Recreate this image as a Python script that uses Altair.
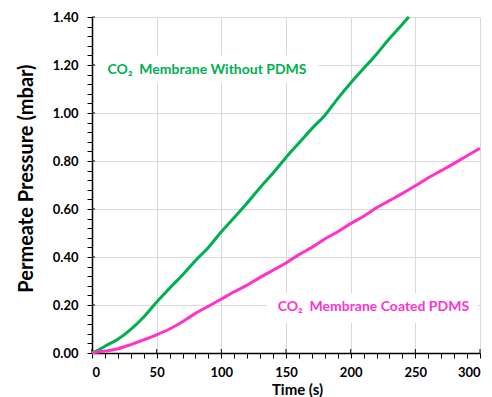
import altair as alt
import pandas as pd

# Data
t_green = [0, 5, 10, 20, 30, 40, 50, 60, 70, 80, 90, 100, 110, 120, 130, 140, 150,
           160, 170, 180, 190, 200, 210, 220, 230, 240, 245]
p_green = [0.0, 0.012, 0.028, 0.057, 0.098, 0.150, 0.212, 0.270, 0.325, 0.385, 0.440,
           0.505, 0.565, 0.625, 0.690, 0.750, 0.815, 0.875, 0.935, 0.990, 1.060, 1.125,
           1.185, 1.245, 1.310, 1.370, 1.400]

t_pink = [0, 10, 20, 30, 40, 50, 60, 70, 80, 90, 100, 110, 120, 130, 140, 150, 160,
          170, 180, 190, 200, 210, 220, 230, 240, 250, 260, 270, 280, 290, 300]
p_pink = [0.0, 0.008, 0.018, 0.035, 0.055, 0.076, 0.100, 0.130, 0.165, 0.195, 0.225,
          0.255, 0.283, 0.315, 0.345, 0.375, 0.410, 0.440, 0.475, 0.505, 0.539, 0.570,
          0.605, 0.635, 0.665, 0.697, 0.730, 0.760, 0.790, 0.822, 0.853]

series_names = ["Membrane Without PDMS", "Membrane Coated PDMS"]
series_colors = ["#00B050", "#FF33CC"]

x_major = [0, 50, 100, 150, 200, 250, 300]
x_ticks = list(range(0, 301, 10))
y_major = [0.0, 0.2, 0.4, 0.6, 0.8, 1.0, 1.2, 1.4]
y_ticks = [round(i * 0.04, 2) for i in range(0, 36)]

label_texts = ["CO₂\u00a0\u00a0Membrane Without PDMS", "CO₂\u00a0\u00a0Membrane Coated PDMS"]
label_t = [12, 143.6]
label_p = [1.18, 0.19]
box_t = [3, 135]
box_t2 = [175, 298]
box_p = [1.125, 0.125]
box_p2 = [1.24, 0.25]

FONT = "Lato"
W, H = 388, 336

df = pd.concat([
    pd.DataFrame({"t": t_green, "p": p_green, "s": series_names[0]}),
    pd.DataFrame({"t": t_pink, "p": p_pink, "s": series_names[1]}),
])
labels = pd.DataFrame({"text": label_texts, "t": label_t, "p": label_p, "s": series_names})
boxes = pd.DataFrame({"t": box_t, "t2": box_t2, "p": box_p, "p2": box_p2})

xscale = alt.Scale(domain=[0, 300], nice=False, zero=False)
yscale = alt.Scale(domain=[0, 1.4], nice=False, zero=False)
color = alt.Color("s:N", scale=alt.Scale(domain=series_names, range=series_colors), legend=None)

x_is_major = "datum.value % 50 === 0"
y_is_major = "abs(datum.value * 5 - round(datum.value * 5)) < 0.001"

x_axis = alt.Axis(values=x_ticks, tickCount=len(x_ticks) + 5, orient="bottom",
                  title="Time (s)", grid=True, gridColor="#d9d9d9", gridWidth=1,
                  gridOpacity=alt.condition(x_is_major, alt.value(1), alt.value(0)),
                  labelExpr=f"{x_is_major} ? datum.label : ''",
                  tickSize=5, tickColor="black",
                  domainColor="black", domainWidth=1.5, labelFont=FONT,
                  labelFontWeight="bold", labelFontSize=13, labelColor="black",
                  labelPadding=8, labelOverlap=False, titleFont=FONT,
                  titleFontWeight="bold", titleFontSize=15, titleColor="black",
                  titlePadding=3, titleX=205)
y_axis = alt.Axis(values=y_ticks, tickCount=len(y_ticks) + 5, orient="left", format=".2f",
                  title="Permeate Pressure (mbar)", grid=True, gridColor="#d9d9d9",
                  gridWidth=1,
                  gridOpacity=alt.condition(y_is_major, alt.value(1), alt.value(0)),
                  labelExpr=f"{y_is_major} ? datum.label : ''",
                  tickSize=5, tickColor="black", domainColor="black",
                  domainWidth=1.5, labelFont=FONT, labelFontWeight="bold",
                  labelFontSize=13, labelColor="black", labelPadding=9,
                  labelOverlap=False, titleFont=FONT,
                  titleFontWeight="bold", titleFontSize=20, titleColor="black",
                  titlePadding=16, titleY=161)

bg = alt.Chart(boxes).mark_rect(color="white").encode(
    x=alt.X("t:Q", scale=xscale, axis=x_axis),
    x2="t2:Q",
    y=alt.Y("p:Q", scale=yscale, axis=y_axis),
    y2="p2:Q",
)

# inward part of the major ticks (they cross the axis line)
ytick_in = alt.Chart(pd.DataFrame({"p": y_major})).mark_rule(color="black", strokeWidth=1).encode(
    y=alt.Y("p:Q", scale=yscale),
    x=alt.value(0), x2=alt.value(3),
)
xtick_in = alt.Chart(pd.DataFrame({"t": x_major})).mark_rule(color="black", strokeWidth=1).encode(
    x=alt.X("t:Q", scale=xscale),
    y=alt.value(H), y2=alt.value(H - 4),
)

lines = alt.Chart(df).mark_line(strokeWidth=3, interpolate="monotone").encode(
    x=alt.X("t:Q", scale=xscale),
    y=alt.Y("p:Q", scale=yscale),
    color=color,
    detail="s:N",
)

texts = alt.Chart(labels).mark_text(align="left", baseline="middle", font=FONT,
                                    fontWeight="bold", fontSize=14).encode(
    x=alt.X("t:Q", scale=xscale),
    y=alt.Y("p:Q", scale=yscale),
    text="text:N",
    color=color,
)

chart = alt.layer(bg, ytick_in, xtick_in, lines, texts).properties(
    width=W, height=H,
    autosize=alt.AutoSizeParams(type="none"),
    padding={"left": 84, "top": 9, "right": 4, "bottom": 44},
).configure_view(stroke="black", strokeWidth=1.5).configure(background="white")

chart.save("out.html", embed_options={"renderer": "svg", "actions": False})
